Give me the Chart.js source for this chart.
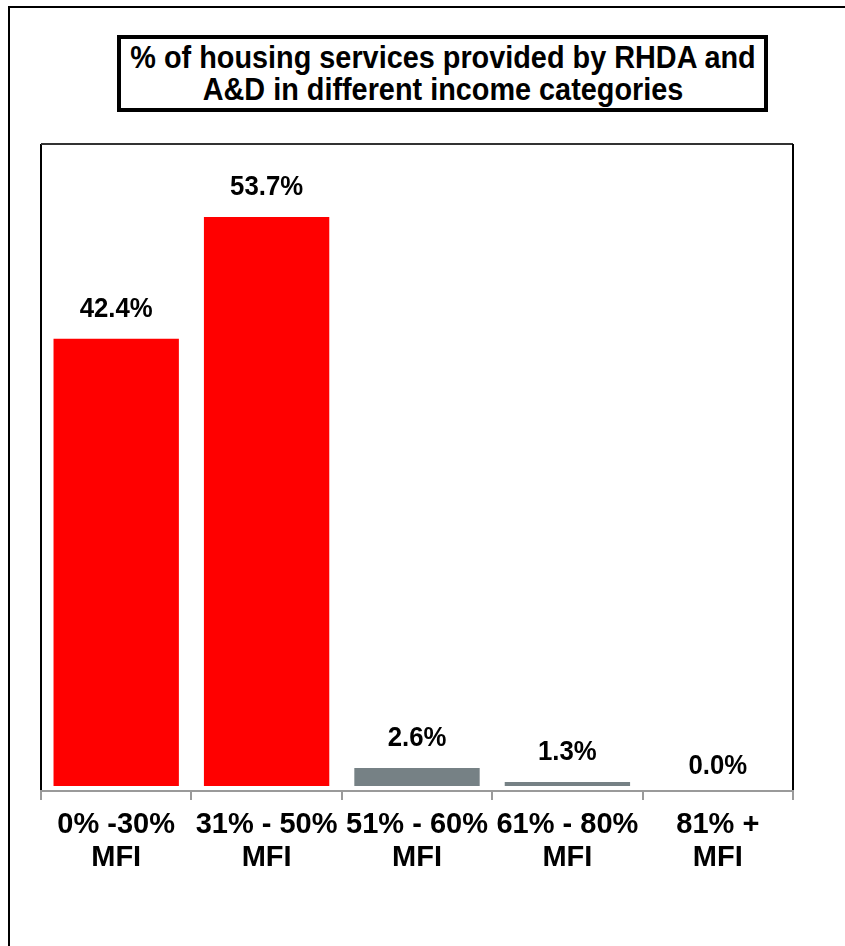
<!DOCTYPE html>
<html>
<head>
<meta charset="utf-8">
<script src="https://cdn.jsdelivr.net/npm/chart.js@4.4.1/dist/chart.umd.min.js"></script>
<style>
  html, body { margin: 0; padding: 0; background: #fff; }
  body { width: 845px; height: 946px; position: relative; overflow: hidden; font-family: "Liberation Sans", Arial, sans-serif; }
  #frame { position: absolute; left: 8px; top: 6px; width: 900px; height: 1000px; border-left: 2px solid #000; border-top: 2px solid #000; box-sizing: border-box; }
  #title { position: absolute; left: 117px; top: 35px; width: 651px; height: 77px; border: 4px solid #000; box-sizing: border-box;
           font-weight: bold; font-size: 31px; line-height: 32px; color: #000; background: #fff; }
  #title .ln { position: absolute; left: 50%; white-space: nowrap; transform: translateX(-50%) scaleX(0.93); transform-origin: center; }
  #c { position: absolute; left: 0; top: 0; }
</style>
</head>
<body>
<div id="frame"></div>
<div id="title"><div class="ln" style="top:3px">% of housing services provided by RHDA and</div><div class="ln" style="top:35px">A&amp;D in different income categories</div></div>
<canvas id="c" width="845" height="946"></canvas>
<script>
const categories = [["0% -30%", "MFI"], ["31% - 50%", "MFI"], ["51% - 60%", "MFI"], ["61% - 80%", "MFI"], ["81% +", "MFI"]];
const shares = [42.4, 53.7, 2.6, 1.3, 0.0];
const barColors = ["#FF0000", "#FF0000", "#768185", "#768185", "#768185"];

const framePlugin = {
  id: 'framePlugin',
  afterDatasetsDraw(chart) {
    const { ctx, chartArea: a } = chart;
    ctx.save();
    ctx.lineWidth = 2;
    ctx.strokeStyle = '#000';
    ctx.beginPath();
    ctx.moveTo(a.left, a.bottom); ctx.lineTo(a.left, a.top);
    ctx.stroke();
    ctx.strokeStyle = '#333';
    ctx.beginPath();
    ctx.moveTo(a.left, a.top); ctx.lineTo(a.right, a.top);
    ctx.stroke();
    ctx.strokeStyle = '#000';
    ctx.beginPath();
    ctx.moveTo(a.right, a.top); ctx.lineTo(a.right, a.bottom);
    ctx.stroke();
    ctx.strokeStyle = '#9a9a9a';
    ctx.beginPath();
    ctx.moveTo(a.left - 1, a.bottom); ctx.lineTo(a.right + 1, a.bottom);
    ctx.stroke();
    ctx.fillStyle = '#000';
    ctx.font = 'bold 28px "Liberation Sans", Arial, sans-serif';
    ctx.textAlign = 'center';
    ctx.textBaseline = 'middle';
    const meta = chart.getDatasetMeta(0);
    meta.data.forEach((bar, i) => {
      const v = chart.data.datasets[0].data[i];
      ctx.save();
      ctx.translate(bar.x, bar.y - 25);
      ctx.scale(0.92, 1);
      ctx.fillText(v.toFixed(1) + '%', 0, 0);
      ctx.restore();
    });
    ctx.restore();
  }
};

new Chart(document.getElementById('c'), {
  type: 'bar',
  data: {
    labels: categories,
    datasets: [{
      data: shares,
      backgroundColor: barColors,
      borderColor: '#FFFFFF',
      borderWidth: 5,
      borderSkipped: false,
      categoryPercentage: 1.0,
      barPercentage: 0.9
    }]
  },
  options: {
    responsive: false,
    animation: false,
    events: [],
    layout: { padding: { left: 41, right: 52, top: 144, bottom: 45 } },
    plugins: { legend: { display: false }, title: { display: false }, tooltip: { enabled: false } },
    scales: {
      y: { display: false, min: 0, max: 60 },
      x: {
        offset: true,
        border: { display: false },
        grid: { display: true, offset: true, drawOnChartArea: false, drawTicks: true, tickLength: 9, color: '#9a9a9a', lineWidth: 2 },
        ticks: {
          color: '#000',
          padding: 9,
          maxRotation: 0,
          autoSkip: false,
          font: { family: '"Liberation Sans", Arial, sans-serif', size: 29, weight: 'bold', lineHeight: 1.12 }
        },
        afterFit(scale) { scale.height = 110; }
      }
    }
  },
  plugins: [framePlugin]
});
</script>
</body>
</html>
